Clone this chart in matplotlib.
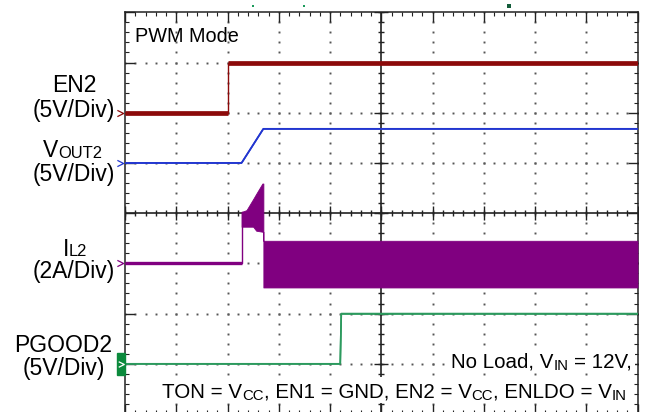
import numpy as np
import matplotlib.pyplot as plt
from matplotlib.path import Path
from matplotlib.patches import Rectangle
from matplotlib.transforms import blended_transform_factory, IdentityTransform

plt.rcParams['font.family'] = ['Liberation Sans', 'DejaVu Sans']

# time axis in screen divisions (10 div across the screen)
en2_t = [0.0, 2.01, 2.01, 10.0]
en2_v = [0.0, 0.0, 5.0, 5.0]

vout2_t = [0.0, 2.275, 2.70, 10.0]
vout2_v = [0.0, 0.0, 3.4, 3.4]

il2_t = [0.0, 2.275, 2.275]
il2_a = [0.0, 0.0, 2.05]
# inductor current while switching: drawn as its envelope
il2_env_t = [2.275, 2.37, 2.50, 2.56, 2.68, 2.70, 2.70, 10.0]
il2_env_hi = [2.05, 2.12, 2.56, 2.77, 3.18, 3.18, 0.90, 0.90]
il2_env_lo = [1.46, 1.46, 1.46, 1.30, 1.26, 1.26, -0.96, -0.96]

pgood2_t = [0.0, 4.20, 4.22, 10.0]
pgood2_v = [0.0, 0.0, 5.0, 5.0]

# scope channel settings: units per div and ground position (div)
scale = {'EN2': 5.0, 'VOUT2': 5.0, 'IL2': 2.0, 'PGOOD2': 5.0}
offset = {'EN2': 2.0, 'VOUT2': 1.0, 'IL2': -1.0, 'PGOOD2': -3.0}
colors = {'EN2': '#8c0a0a', 'VOUT2': '#2236d0', 'IL2': '#800080', 'PGOOD2': '#2c9a5e'}

W, H = 646, 412


def to_div(ch, vals):
    return np.asarray(vals, dtype=float) / scale[ch] + offset[ch]


def fx(x):
    return x / W


def fy(y):
    return 1 - y / H


fig = plt.figure(figsize=(W / 100, H / 100), dpi=100)
ax = fig.add_axes([fx(125), fy(414), 512.5 / W, 401.7 / H])
ax.set_xlim(0, 10)
ax.set_ylim(-4, 4)

# frame ticks
ax.set_xticks(np.arange(0, 11, 1))
ax.set_xticks(np.arange(0, 10.01, 0.2), minor=True)
ax.set_yticks(np.arange(-4, 5, 1))
ax.set_yticks(np.arange(-4, 4.01, 0.2), minor=True)
ax.tick_params(which='both', direction='in', top=True, right=True,
               labelbottom=False, labelleft=False, color='#222')
ax.tick_params(which='major', length=7, width=1.0)
ax.tick_params(which='minor', length=3, width=0.8)
for sp in ax.spines.values():
    sp.set_linewidth(1.1)
    sp.set_color('#222')

# dotted graticule
fine_y = np.arange(-4, 4.01, 0.2)
fine_x = np.arange(0, 10.01, 0.2)
for gx in range(1, 10):
    if gx == 5:
        continue
    ax.plot(np.full_like(fine_y, gx), fine_y, ls='', marker='s', ms=1.4,
            mew=0, color='#555', zorder=1)
for gy in range(-3, 4):
    if gy == 0:
        continue
    ax.plot(fine_x, np.full_like(fine_x, gy), ls='', marker='s', ms=1.4,
            mew=0, color='#555', zorder=1)

# centre cross with tick marks
ax.axvline(5, color='#222', lw=1.2, zorder=1)
ax.axhline(0, color='#222', lw=1.2, zorder=1)
ax.plot(fine_x, np.zeros_like(fine_x), ls='', marker='|', ms=4.8, mew=1.0,
        color='#222', zorder=1)
ax.plot(np.arange(0, 11, 1), np.zeros(11), ls='', marker='|', ms=10, mew=1.0,
        color='#222', zorder=1)
ax.plot(np.full_like(fine_y, 5), fine_y, ls='', marker='_', ms=4.8, mew=1.0,
        color='#222', zorder=1)
ax.plot(np.full(9, 5.0), np.arange(-4, 5, 1), ls='', marker='_', ms=10, mew=1.0,
        color='#222', zorder=1)


def draw_trace(t, y, color, lw_flat, lw_edge):
    t = np.asarray(t, dtype=float)
    ax.plot(t, y, color=color, lw=lw_edge, zorder=3)
    for i in range(len(t) - 1):
        if t[i + 1] > t[i]:
            ax.plot(t[i:i + 2], y[i:i + 2], color=color, lw=lw_flat,
                    solid_capstyle='butt', zorder=3)


draw_trace(en2_t, to_div('EN2', en2_v), colors['EN2'], 3.4, 1.0)
draw_trace(vout2_t, to_div('VOUT2', vout2_v), colors['VOUT2'], 1.2, 1.2)
draw_trace(il2_t, to_div('IL2', il2_a), colors['IL2'], 2.4, 1.0)
ax.fill_between(il2_env_t, to_div('IL2', il2_env_hi), to_div('IL2', il2_env_lo),
                color=colors['IL2'], lw=0.6, zorder=3)
draw_trace(pgood2_t, to_div('PGOOD2', pgood2_v), colors['PGOOD2'], 1.2, 1.2)

# channel ground markers at the left edge
bt = blended_transform_factory(ax.transAxes, ax.transData)
chevron = Path([(-1, 1), (1, 0), (-1, -1)], [Path.MOVETO, Path.LINETO, Path.LINETO])
for ch in ['EN2', 'VOUT2', 'IL2']:
    ax.plot([-0.009], [offset[ch]], transform=bt, marker=chevron, ms=4.5,
            mfc='none', mec=colors[ch], mew=0.9, clip_on=False)
ax.add_patch(Rectangle((-0.015, offset['PGOOD2'] - 0.215), 0.015, 0.43,
                       transform=bt, color='#0b8a3c', clip_on=False, zorder=4))
ax.plot([-0.0075], [offset['PGOOD2']], transform=bt, marker=chevron, ms=4,
        mfc='none', mec='white', mew=0.9, clip_on=False, zorder=5)

# small trigger markers above the screen
ax.plot([2.5, 3.5], [4.12, 4.12], ls='', marker='s', ms=1.6, mew=0,
        color='#1a9a5a', clip_on=False)
ax.plot([7.5], [4.12], ls='', marker='s', ms=2.2, mew=0,
        color='#135c3a', clip_on=False)

# text with small, nearly on-baseline subscripts, placed in pixels
renderer = fig.canvas.get_renderer()
px = IdentityTransform()


def rich_text(x, y, runs, ha='left', box=False):
    items = []
    total = 0.0
    for s, size, drop in runs:
        gap = 0.0
        if s.startswith(' '):
            n = len(s) - len(s.lstrip(' '))
            gap = n * 0.278 * size * 100 / 72
            s = s.lstrip(' ')
        t = fig.text(0, 0, s, fontsize=size, ha='left', va='baseline',
                     transform=px, zorder=4)
        w = t.get_window_extent(renderer).width
        items.append((t, gap, w, drop))
        total += gap + w
    if ha == 'right':
        x0 = x - total
    elif ha == 'center':
        x0 = x - total / 2
    else:
        x0 = x
    cur = x0
    for t, gap, w, drop in items:
        cur += gap
        t.set_position((cur, H - y - drop))
        cur += w
    if box:
        fig.add_artist(Rectangle((x0 - 3, H - y - 5), total + 6, 26,
                                 transform=px, facecolor='white',
                                 edgecolor='none', zorder=2))


lab = 16.5
sub = 11.9
rich_text(74, 92, [('EN2', lab, 0)], ha='center')
rich_text(73.5, 116.7, [('(5V/Div)', lab, 0)], ha='center')
rich_text(73, 157, [('V', lab, 0), ('OUT2', sub, 1.5)], ha='center')
rich_text(73.5, 181.5, [('(5V/Div)', lab, 0)], ha='center')
rich_text(75, 255.5, [('I', lab, 0), ('L2', sub, 1.0)], ha='center')
rich_text(73.5, 278, [('(2A/Div)', lab, 0)], ha='center')
rich_text(63, 351.7, [('PGOOD2', lab, 0)], ha='center')
rich_text(64, 375, [('(5V/Div)', lab, 0)], ha='center')

rich_text(135, 41.5, [('PWM Mode', 14.3, 0)])

note = 14.8
nsub = 10.8
rich_text(632, 368, [('No Load, V', note, 0), ('IN', nsub, 1.5),
                     (' = 12V,', note, 0)], ha='right', box=True)
rich_text(627, 398, [('TON = V', note, 0), ('CC', nsub, 1.5),
                     (', EN1 = GND, EN2 = V', note, 0), ('CC', nsub, 1.5),
                     (', ENLDO = V', note, 0), ('IN', nsub, 1.5)],
          ha='right', box=True)

fig.savefig('out.png', dpi=100)
